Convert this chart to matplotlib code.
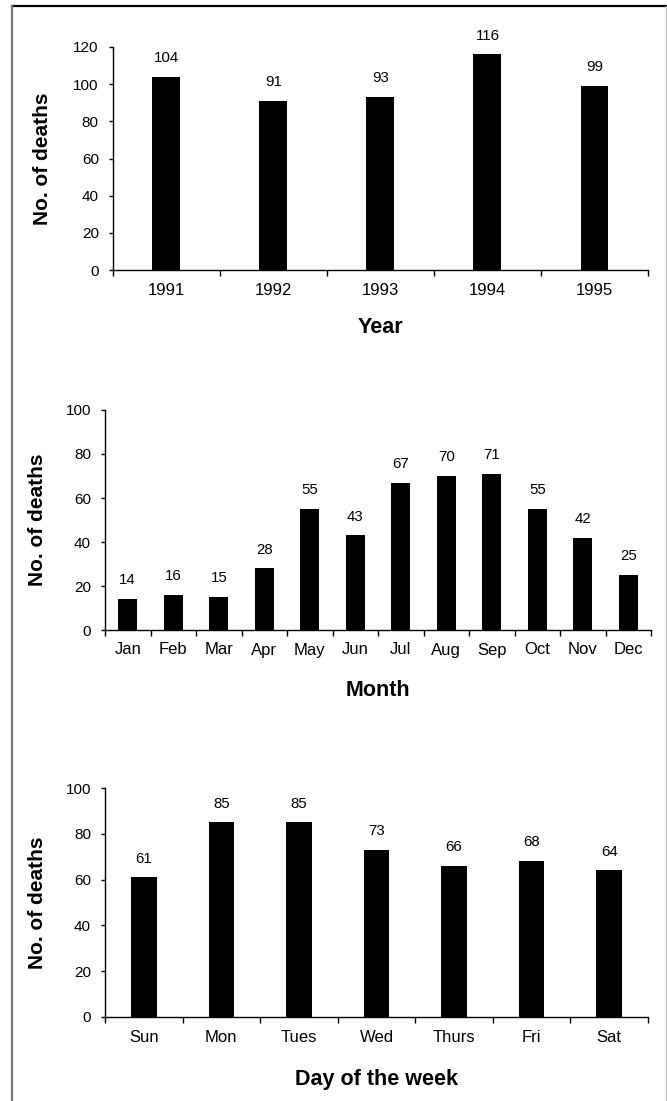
import matplotlib
matplotlib.use('Agg')
import matplotlib.pyplot as plt
from matplotlib.lines import Line2D

plt.rcParams['font.family'] = ['Liberation Sans', 'DejaVu Sans']

# data
years = ['1991', '1992', '1993', '1994', '1995']
year_deaths = [104, 91, 93, 116, 99]
months = ['Jan', 'Feb', 'Mar', 'Apr', 'May', 'Jun', 'Jul', 'Aug', 'Sep', 'Oct', 'Nov', 'Dec']
month_deaths = [14, 16, 15, 28, 55, 43, 67, 70, 71, 55, 42, 25]
days = ['Sun', 'Mon', 'Tues', 'Wed', 'Thurs', 'Fri', 'Sat']
day_deaths = [61, 85, 85, 73, 66, 68, 64]

W, H = 667, 1101
fig = plt.figure(figsize=(W / 100, H / 100), dpi=100)


def px_axes(l, r, top, bot):
    return fig.add_axes([l / W, 1 - bot / H, (r - l) / W, (bot - top) / H])


def panel(ax, cats, vals, ymax, width, xlab, xlab_y, ylab_x):
    n = len(cats)
    x = list(range(n))
    ax.bar(x, vals, width=width, color='black', zorder=3)
    for xi, v in zip(x, vals):
        ax.annotate(str(v), (xi, v), xytext=(0, 8.5), textcoords='offset points',
                    ha='center', va='bottom', fontsize=10.8)
    ax.set_xlim(-0.5, n - 0.5)
    ax.set_ylim(0, ymax)
    ax.set_yticks(range(0, ymax + 1, 20))
    ax.set_xticks(x)
    ax.set_xticklabels(cats, fontsize=12)
    ax.set_xticks([i - 0.5 for i in range(n + 1)], minor=True)
    ax.tick_params(axis='x', which='major', length=0, pad=9)
    ax.tick_params(axis='x', which='minor', length=4, width=1, direction='out')
    ax.tick_params(axis='y', length=3, width=1, pad=7, labelsize=11)
    for s in ['top', 'right']:
        ax.spines[s].set_visible(False)
    for s in ['left', 'bottom']:
        ax.spines[s].set_linewidth(1)
    ax.set_ylabel('No. of deaths', fontsize=15, fontweight='bold')
    ax.yaxis.set_label_coords(ylab_x, 0.5)
    ax.yaxis.label.set_va('center')
    ax.set_xlabel(xlab, fontsize=15.5, fontweight='bold')
    ax.xaxis.set_label_coords(0.5, xlab_y)
    ax.xaxis.label.set_va('center')


ax1 = px_axes(112.7, 648, 47, 270)
panel(ax1, years, year_deaths, 120, 0.26, 'Year', -0.256, -0.132)

ax2 = px_axes(105, 651, 410, 630)
panel(ax2, months, month_deaths, 100, 0.42, 'Month', -0.273, -0.123)

ax3 = px_axes(105, 648, 788, 1017)
panel(ax3, days, day_deaths, 100, 0.33, 'Day of the week', -0.275, -0.124)

# frame around the figure
fig.add_artist(Line2D([12 / W, 666 / W], [1 - 6 / H, 1 - 6 / H], color='black', lw=1.6))
fig.add_artist(Line2D([12 / W, 12 / W], [0, 1 - 6 / H], color='#777777', lw=1.6))
fig.add_artist(Line2D([666 / W, 666 / W], [0, 1 - 6 / H], color='#bbbbbb', lw=1))

fig.savefig('out.png', dpi=100)
